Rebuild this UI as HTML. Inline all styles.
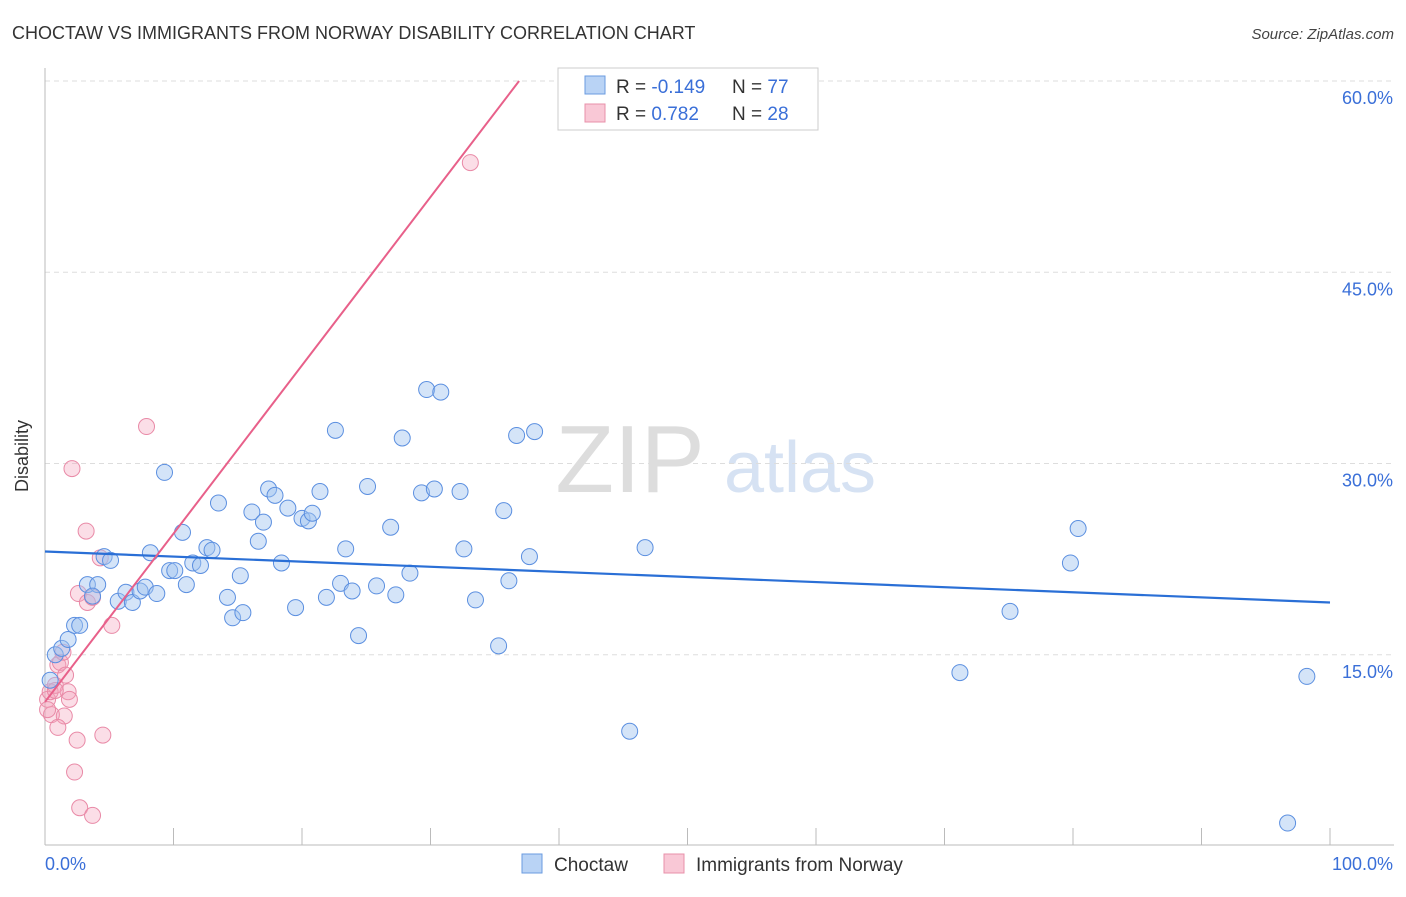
<!DOCTYPE html>
<html><head><meta charset="utf-8"><style>
body{margin:0;background:#fff;font-family:"Liberation Sans",sans-serif;}
svg text{font-family:"Liberation Sans",sans-serif;}
</style></head><body>
<svg id="chart" width="1406" height="892">
<text x="12" y="39" font-size="18" fill="#333">CHOCTAW VS IMMIGRANTS FROM NORWAY DISABILITY CORRELATION CHART</text>
<text x="1394" y="39" font-size="15" fill="#444" font-style="italic" text-anchor="end">Source: ZipAtlas.com</text>
<text x="28" y="456" font-size="18" fill="#333" text-anchor="middle" transform="rotate(-90 28 456)">Disability</text>
<text x="630" y="492" font-size="96" fill="#ddd" font-family="Liberation Serif" text-anchor="middle">ZIP</text>
<text x="800" y="492" font-size="72" fill="#d6e2f3" text-anchor="middle">atlas</text>
<g id="grid"></g><g id="axes"></g><g id="pts"></g><g id="lines"></g>
<g>
<rect x="558" y="68" width="260" height="62" fill="#fff" stroke="#ccc"/>
<rect x="585" y="76" width="20" height="18" fill="#b9d3f5" stroke="#6a9be0"/>
<rect x="585" y="104" width="20" height="18" fill="#f9c8d6" stroke="#e890aa"/>
<text x="616" y="93" font-size="19" fill="#333">R = <tspan fill="#3a6fd8">-0.149</tspan></text>
<text x="732" y="93" font-size="19" fill="#333">N = <tspan fill="#3a6fd8">77</tspan></text>
<text x="616" y="120" font-size="19" fill="#333">R =  <tspan fill="#3a6fd8">0.782</tspan></text>
<text x="732" y="120" font-size="19" fill="#333">N = <tspan fill="#3a6fd8">28</tspan></text>
</g>
<rect x="522" y="854" width="20" height="19" fill="#b9d3f5" stroke="#6a9be0"/>
<text x="554" y="871" font-size="19" fill="#333">Choctaw</text>
<rect x="664" y="854" width="20" height="19" fill="#f9c8d6" stroke="#e890aa"/>
<text x="696" y="871" font-size="19" fill="#333">Immigrants from Norway</text>
</svg>
<script>
const yTicks=[15,30,45,60];
const blueX=[0.8,1.3,1.8,2.3,2.7,3.3,4.1,3.7,4.6,5.1,5.7,6.3,6.8,7.4,7.8,8.2,8.7,9.3,9.7,10.1,10.7,11.0,11.5,12.1,12.6,13.0,13.5,14.2,14.6,15.2,15.4,16.1,16.6,17.0,17.4,17.9,18.4,18.9,19.5,20.0,20.5,20.8,21.4,21.9,22.6,23.0,23.4,23.9,24.4,25.1,25.8,26.9,27.3,27.8,28.4,29.3,29.7,30.3,30.8,32.3,32.6,33.5,35.3,35.7,36.1,36.7,37.7,38.1,45.5,46.7,71.2,75.1,79.8,80.4,96.7,98.2,0.4];
const blueY=[15.0,15.5,16.2,17.3,17.3,20.5,20.5,19.6,22.7,22.4,19.2,19.9,19.1,20.0,20.3,23.0,19.8,29.3,21.6,21.6,24.6,20.5,22.2,22.0,23.4,23.2,26.9,19.5,17.9,21.2,18.3,26.2,23.9,25.4,28.0,27.5,22.2,26.5,18.7,25.7,25.5,26.1,27.8,19.5,32.6,20.6,23.3,20.0,16.5,28.2,20.4,25.0,19.7,32.0,21.4,27.7,35.8,28.0,35.6,27.8,23.3,19.3,15.7,26.3,20.8,32.2,22.7,32.5,9.0,23.4,13.6,18.4,22.2,24.9,1.8,13.3,13.0];
const pinkX=[0.2,0.4,0.5,0.8,1.0,1.2,1.4,1.6,1.8,1.9,1.5,1.0,2.1,2.3,2.5,2.7,3.2,3.7,4.3,4.5,5.2,7.9,33.1,2.6,3.3,3.7,0.8,0.2];
const pinkY=[11.5,12.1,10.3,12.6,14.2,14.4,15.2,13.4,12.1,11.5,10.2,9.3,29.6,5.8,8.3,3.0,24.7,2.4,22.6,8.7,17.3,32.9,53.6,19.8,19.1,19.5,12.2,10.7];
const blueTrend=[23.1,19.1];
const pinkTrend=[11.3,1.32];
const NS="http://www.w3.org/2000/svg";
const X=v=>45+v*12.85, Y=v=>846-v*12.75;
function mk(t,a,p){const e=document.createElementNS(NS,t);for(const k in a)e.setAttribute(k,a[k]);document.getElementById(p).appendChild(e);return e;}
yTicks.forEach(t=>{
 const l=mk('line',{x1:45,x2:1394,y1:Y(t),y2:Y(t),stroke:'#ddd','stroke-dasharray':'5,4'},'grid');
 
 
 const tx=mk('text',{x:1393,y:Y(t)+23,'font-size':18,fill:'#3a6fd8','text-anchor':'end'},'grid');
 tx.textContent=t.toFixed(1)+'%';
 
 
});
let a=mk('line',{x1:45,x2:45,y1:68,y2:845,stroke:'#bbb'},'axes');
a=mk('line',{x1:45,x2:1394,y1:845,y2:845,stroke:'#bbb'},'axes');
for(let i=1;i<=10;i++){const t=mk('line',{x1:X(i*10),x2:X(i*10),y1:828,y2:845,stroke:'#bbb'},'axes');}
a=mk('text',{x:45,y:870,'font-size':18,fill:'#3a6fd8'},'axes');a.textContent='0.0%';
a=mk('text',{x:1393,y:870,'font-size':18,fill:'#3a6fd8','text-anchor':'end'},'axes');a.textContent='100.0%';
pinkX.forEach((x,i)=>{const c=mk('circle',{cx:X(x),cy:Y(pinkY[i]),r:8,fill:'rgba(244,160,185,0.35)',stroke:'#e98aa7','stroke-width':1},'pts');
 
 });
blueX.forEach((x,i)=>{const c=mk('circle',{cx:X(x),cy:Y(blueY[i]),r:8,fill:'rgba(160,195,240,0.45)',stroke:'#5b8fe0','stroke-width':1},'pts');
 
 });
let l=mk('line',{x1:X(0),y1:Y(blueTrend[0]),x2:X(100),y2:Y(blueTrend[1]),stroke:'#2a6fd6','stroke-width':2.2},'lines');


const xe=(60-pinkTrend[0])/pinkTrend[1];
l=mk('line',{x1:X(0),y1:Y(pinkTrend[0]),x2:X(xe),y2:Y(60),stroke:'#e8608a','stroke-width':2},'lines');


</script>
</body></html>
